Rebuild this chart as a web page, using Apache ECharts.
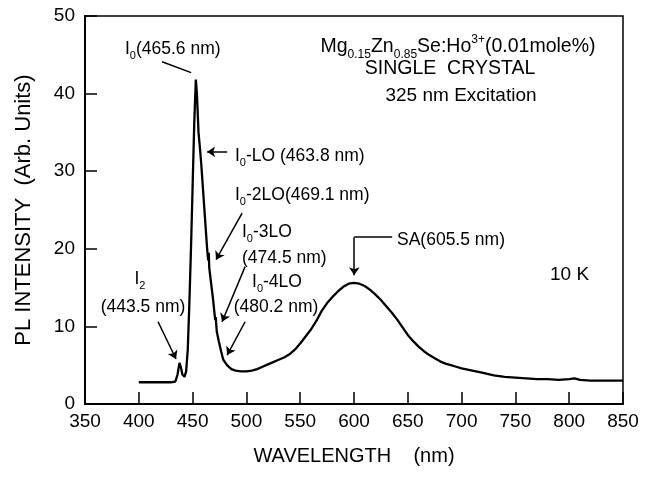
<!DOCTYPE html>
<html>
<head>
<meta charset="utf-8">
<script src="https://cdn.jsdelivr.net/npm/echarts@6/dist/echarts.min.js"></script>
<style>
  html, body { margin: 0; padding: 0; background: #fff; }
  #main { width: 652px; height: 482px; }
</style>
</head>
<body>
<div id="main"></div>
<script>
// wavelength (nm) and PL intensity
var wavelength = [400, 410, 420, 430, 434, 436, 437.8, 439, 440.5, 442.5, 444, 445.5, 447, 448.5, 450, 451.5, 453,
    454, 455.5, 457, 458, 459, 460.5, 462, 463.5, 464.5, 465, 465.5, 467, 469, 471, 471.5, 472.5, 474.5, 476.5, 478.5,
    479.5, 482, 486, 490, 495, 500, 505, 510, 515, 520, 525, 530, 535, 540, 545, 550, 555, 560, 565, 570, 575, 580,
    585, 590, 595, 600, 605, 610, 615, 620, 625, 630, 635, 640, 645, 650, 655, 660, 665, 670, 675, 680, 685, 690,
    695, 700, 710, 720, 730, 740, 750, 760, 770, 780, 790, 800, 805, 810, 820, 830, 840, 850];
var intensity = [2.8, 2.8, 2.8, 2.8, 2.9, 3.8, 5.3, 4.8, 3.8, 3.5, 4.2, 7, 13, 20, 28, 36, 41.8,
    40, 35, 32.7, 31, 29, 26, 23, 20, 18.5, 19.5, 17.5, 15.8, 13.5, 10.8, 11.2, 9.3, 8, 6.8, 5.7,
    5.5, 5.0, 4.5, 4.3, 4.2, 4.2, 4.3, 4.5, 4.8, 5.1, 5.4, 5.7, 6.0, 6.4, 7.0, 7.8, 8.7, 9.6, 10.7, 12.0, 13.0, 13.8,
    14.5, 15.1, 15.5, 15.6, 15.5, 15.2, 14.7, 14.1, 13.4, 12.6, 11.8, 10.9, 9.9, 8.9, 8.1, 7.4, 6.8, 6.3, 5.9, 5.5, 5.2, 5.0,
    4.8, 4.6, 4.3, 4.0, 3.7, 3.5, 3.4, 3.3, 3.2, 3.2, 3.1, 3.2, 3.3, 3.1, 3.0, 3.0, 3.0, 3.0];

var xTicks = [350, 850, 50];
var yTicks = [0, 50, 10];

// arrows: [from, to] in data coordinates
var arrows = [
    [[482.1, 32.5], [463.5, 32.5]],
    [[496.0, 24.6], [471.8, 18.6]],
    [[498.8, 17.7], [477.4, 10.6]],
    [[498.8, 10.6], [482.1, 6.3]],
    [[417.9, 10.6], [434.6, 5.8]]
];

var FONT = "'Liberation Sans', Arial, sans-serif";

var myChart = echarts.init(document.getElementById('main'));

var points = [];
for (var i = 0; i < wavelength.length; i++) {
    points.push([wavelength[i], intensity[i]]);
}

var lineData = [];
for (var j = 0; j < arrows.length; j++) {
    lineData.push([{coord: arrows[j][0], symbol: 'none'}, {coord: arrows[j][1], symbol: 'arrow'}]);
}
// I0 curved leader
lineData.push([{coord: [421.6, 44.1], symbol: 'none'}, {coord: [448.6, 42.7], symbol: 'none', lineStyle: {curveness: -0.25}}]);
// SA elbow
lineData.push([{coord: [635.5, 21.5], symbol: 'none'}, {coord: [600.2, 21.5], symbol: 'none'}]);
lineData.push([{coord: [600.2, 21.5], symbol: 'none'}, {coord: [600.2, 16.6], symbol: 'arrow'}]);

function richFor(size) {
    var small = Math.round(size * 0.62);
    return {
        m: {fontSize: size, lineHeight: size + 8, fontFamily: FONT, color: '#000'},
        s: {fontSize: small, lineHeight: small, verticalAlign: 'bottom', fontFamily: FONT, color: '#000'},
        p: {fontSize: small, lineHeight: small, verticalAlign: 'top', fontFamily: FONT, color: '#000'}
    };
}

function txt(x, y, text, align, size) {
    size = size || 17.5;
    return {
        type: 'text', x: x, y: y, z: 10,
        style: {text: text, fill: '#000', align: align || 'left', verticalAlign: 'middle',
            rich: richFor(size), font: size + 'px ' + FONT}
    };
}

var option = {
    animation: false,
    grid: {
        left: 85, right: 29, top: 16, bottom: 78,
        show: true, borderColor: '#000', borderWidth: 1.5, backgroundColor: 'transparent'
    },
    xAxis: {
        type: 'value',
        min: xTicks[0], max: xTicks[1], interval: xTicks[2],
        name: 'WAVELENGTH    (nm)',
        nameLocation: 'middle',
        nameGap: 42,
        nameTextStyle: {fontSize: 20, fontFamily: FONT, color: '#000'},
        axisLine: {lineStyle: {color: '#000', width: 2}},
        axisTick: {inside: true, length: 12, lineStyle: {color: '#000', width: 1.5}},
        axisLabel: {fontSize: 19, fontFamily: FONT, color: '#000', margin: 8},
        splitLine: {show: false}
    },
    yAxis: {
        type: 'value',
        min: yTicks[0], max: yTicks[1], interval: yTicks[2],
        name: 'PL INTENSITY  (Arb. Units)',
        nameLocation: 'middle',
        nameGap: 50,
        nameTextStyle: {fontSize: 22, fontFamily: FONT, color: '#000'},
        axisLine: {lineStyle: {color: '#000', width: 2}},
        axisTick: {inside: true, length: 12, lineStyle: {color: '#000', width: 1.5}},
        axisLabel: {fontSize: 19, fontFamily: FONT, color: '#000', margin: 10},
        splitLine: {show: false}
    },
    series: [{
        type: 'line',
        data: points,
        showSymbol: false,
        lineStyle: {color: '#000', width: 2.3},
        markLine: {
            silent: true,
            symbolSize: 8,
            animation: false,
            label: {show: false},
            lineStyle: {color: '#000', width: 1.5, type: 'solid'},
            emphasis: {disabled: true},
            data: lineData
        }
    }],
    graphic: [
        txt(458, 47, '{m|Mg}{s|0.15}{m|Zn}{s|0.85}{m|Se:Ho}{p|3+}{m|(0.01mole%)}', 'center', 19.5),
        txt(450, 69, 'SINGLE  CRYSTAL', 'center', 19.5),
        txt(461, 96, '325 nm Excitation', 'center', 19),
        txt(125, 49, '{m|I}{s|0}{m|(465.6 nm)}'),
        txt(235, 156, '{m|I}{s|0}{m|-LO (463.8 nm)}'),
        txt(235, 195, '{m|I}{s|0}{m|-2LO(469.1 nm)}'),
        txt(242, 232, '{m|I}{s|0}{m|-3LO}'),
        txt(242, 258, '(474.5 nm)'),
        txt(277, 282, '{m|I}{s|0}{m|-4LO}', 'center'),
        txt(276, 307, '(480.2 nm)', 'center'),
        txt(140, 279, '{m|I}{s|2}', 'center'),
        txt(143, 307, '(443.5 nm)', 'center'),
        txt(397, 240, 'SA(605.5 nm)'),
        txt(550, 275, '10 K', 'left', 19)
    ]
};
myChart.setOption(option);
</script>
</body>
</html>
